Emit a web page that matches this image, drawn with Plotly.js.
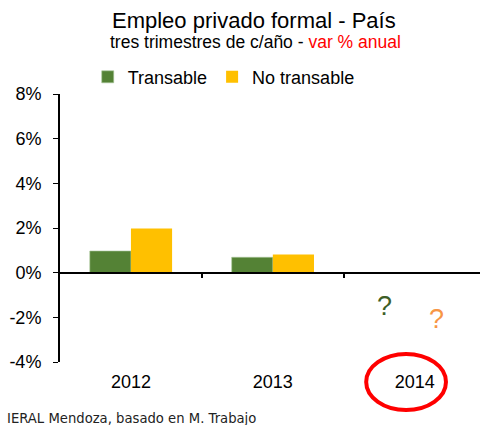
<!DOCTYPE html>
<html><head><meta charset="utf-8">
<script src="https://cdn.plot.ly/plotly-3.0.1.min.js"></script>
<style>html,body{margin:0;padding:0;background:#fff}</style>
</head><body><div id="chart" style="width:481px;height:425px"></div>
<script>
const categories = ["2012", "2013", "2014"];
const transable = [0.97, 0.69, null];
const noTransable = [1.98, 0.81, null];
const seriesNames = ["Transable", "No transable"];
const yTicks = [8, 6, 4, 2, 0, -2, -4];

const F = "Liberation Sans, Arial, sans-serif";
const traces = [
  {type: "bar", name: seriesNames[0], x: [0,1,2], y: transable, marker: {color: "#548235", line: {color: "#a9c89a", width: 0.6}}},
  {type: "bar", name: seriesNames[1], x: [0,1,2], y: noTransable, marker: {color: "#FFC000"}},
  {type: "scatter", x: [], y: [], xaxis: "x2", showlegend: false, hoverinfo: "skip"}
];
const layout = {
  width: 481, height: 425,
  margin: {l: 60, r: 1, t: 94, b: 63},
  paper_bgcolor: "#fff", plot_bgcolor: "#fff",
  font: {family: F, color: "#000"},
  barmode: "group", bargap: 0.42, bargroupgap: 0,
  showlegend: true,
  legend: {orientation: "h", x: 0.066, xanchor: "left", y: 1.063, yanchor: "middle",
           font: {size: 18, family: F}, itemwidth: 30, traceorder: "normal", tracegroupgap: 0},
  xaxis: {
    range: [-0.5, 2.46], tickvals: [0,1,2], ticktext: categories,
    showline: false, showgrid: false, zeroline: false, ticks: "",
    tickfont: {size: 18, family: F}, ticklabelstandoff: 7, fixedrange: true
  },
  xaxis2: {
    overlaying: "x", anchor: "free", position: (0 - (-4)) / 12, side: "bottom",
    range: [-0.5, 2.46], tickvals: [0.5, 1.5], showticklabels: false,
    ticks: "outside", ticklen: 4, tickwidth: 1.5, tickcolor: "#000",
    showline: true, linecolor: "#000", linewidth: 2, showgrid: false, zeroline: false
  },
  yaxis: {
    range: [-4, 8], tickvals: yTicks, ticktext: yTicks.map(v => v + "%"),
    showline: true, linecolor: "#000", linewidth: 2,
    ticks: "outside", ticklen: 5, tickcolor: "#000", tickwidth: 1,
    showgrid: false, zeroline: false,
    tickfont: {size: 18, family: F}, ticklabelstandoff: 8
  },
  annotations: [
    {text: "Empleo privado formal - País", xref: "paper", yref: "paper",
     x: (254 - 60) / 420, y: 1 + (94 - 20) / 268, xanchor: "center", yanchor: "middle", showarrow: false,
     font: {size: 22, family: F, color: "#000"}},
    {text: "tres trimestres de c/año - <span style='color:#ff0000'>var % anual</span>", xref: "paper", yref: "paper",
     x: (255 - 60) / 420, y: 1 + (94 - 42) / 268, xanchor: "center", yanchor: "middle", showarrow: false,
     font: {size: 17.5, family: F, color: "#000"}},
    {text: "?", x: 1.79, y: -1.48, xref: "x", yref: "y", showarrow: false,
     font: {size: 27, family: F, color: "#3d5e26"}},
    {text: "?", x: 2.15, y: -2.06, xref: "x", yref: "y", showarrow: false,
     font: {size: 27, family: F, color: "#f79646"}},
    {text: "IERAL Mendoza, basado en M. Trabajo", xref: "paper", yref: "paper",
     x: -0.131, y: -0.209, xanchor: "left", yanchor: "middle", showarrow: false,
     font: {size: 13.2, family: "DejaVu Sans, sans-serif", color: "#222"}}
  ],
  shapes: [
    {type: "circle", xref: "paper", yref: "paper", x0: 0.729, x1: 0.919, y0: -0.179, y1: 0.03,
     line: {color: "#ff0000", width: 4}}
  ]
};
Plotly.newPlot("chart", traces, layout, {staticPlot: true});
</script></body></html>
